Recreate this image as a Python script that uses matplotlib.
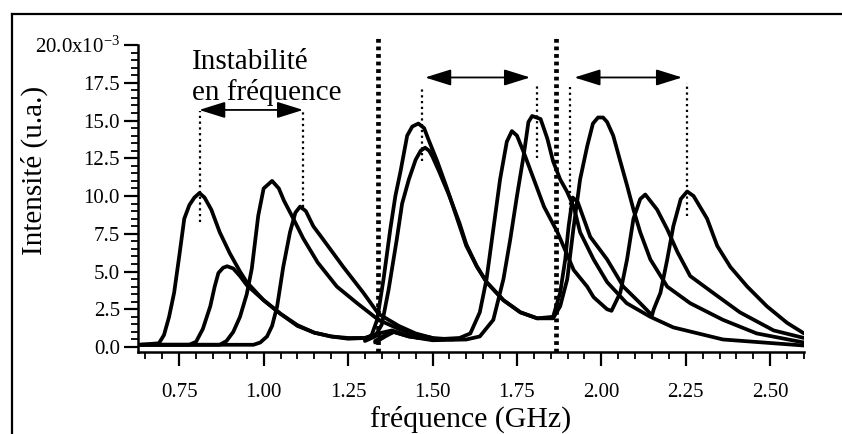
import numpy as np
import matplotlib
matplotlib.use('Agg')
import matplotlib.pyplot as plt
from matplotlib.lines import Line2D

plt.rcParams['font.family'] = ['Liberation Serif', 'DejaVu Serif']
plt.rcParams['mathtext.fontset'] = 'stix'

# intensities in units of 1e-3 (u.a.), frequencies in GHz
a_f = [0.635,0.69,0.705,0.72,0.735,0.75,0.765,0.78,0.795,0.81,0.825,0.845,0.87,0.90,0.93,0.95,1.00,1.05,1.10,1.15,1.20,1.25,1.30,1.34,1.38,1.42,1.46]
a_v = [0.15,0.25,0.8,2.0,3.6,6.0,8.5,9.4,9.9,10.2,9.9,9.1,7.6,6.2,5.0,4.3,3.1,2.2,1.4,0.95,0.7,0.55,0.6,0.9,1.1,0.8,0.6]

b_f = [0.635,0.78,0.80,0.82,0.842,0.855,0.866,0.88,0.892,0.91,0.93,0.95,1.00,1.05,1.10,1.15,1.20,1.25,1.30,1.34]
b_v = [0.15,0.15,0.35,1.2,2.7,4.0,4.9,5.25,5.35,5.2,4.7,4.1,3.1,2.2,1.45,0.95,0.7,0.6,0.6,0.85]

c_f = [0.635,0.87,0.89,0.91,0.93,0.95,0.965,0.984,1.00,1.025,1.045,1.06,1.088,1.117,1.16,1.217,1.277,1.34,1.40,1.45,1.50]
c_v = [0.15,0.15,0.4,1.0,2.0,3.5,5.2,8.7,10.5,11.0,10.5,9.7,8.5,7.2,5.6,4.0,2.9,1.8,1.2,0.8,0.6]

d_f = [0.635,0.97,0.99,1.01,1.025,1.04,1.058,1.078,1.094,1.108,1.125,1.147,1.177,1.236,1.295,1.34,1.40,1.45,1.50,1.56]
d_v = [0.15,0.15,0.3,0.7,1.4,2.7,5.3,7.6,8.9,9.3,9.0,8.0,7.1,5.3,3.6,2.2,1.4,0.9,0.6,0.5]

e_f = [1.30,1.32,1.336,1.355,1.375,1.39,1.405,1.425,1.44,1.458,1.475,1.487,1.514,1.543,1.573,1.60,1.632,1.66,1.71,1.76,1.81,1.857,
       1.878,1.893,1.903,1.915,1.93,1.967,2.017,2.065,2.115,2.15,2.155,2.175,2.195,2.213,2.235,2.254,2.273,2.313,2.343,2.382,2.432,2.49,2.55,2.60]
e_v = [0.5,0.8,1.8,4.5,7.8,10.0,11.6,14.0,14.6,14.8,14.5,13.8,12.3,10.5,8.5,6.7,5.3,4.3,3.1,2.3,1.9,2.0,
       3.6,5.8,8.0,9.9,9.6,7.3,5.8,4.0,2.9,2.1,2.5,3.6,5.8,8.0,9.8,10.3,10.0,8.5,6.7,5.3,4.0,2.7,1.6,0.9]

f_f = [1.30,1.33,1.35,1.37,1.394,1.41,1.43,1.45,1.465,1.478,1.49,1.50,1.52,1.55,1.58,1.60,1.63,1.66,1.71,1.76,1.81,1.857,
       1.878,1.899,1.917,1.937,1.958,1.975,1.99,2.005,2.017,2.035,2.056,2.076,2.095,2.115,2.145,2.195,2.263,2.36,2.46,2.60]
f_v = [0.4,0.7,1.5,3.8,7.1,9.5,11.1,12.4,13.0,13.2,13.0,12.6,11.6,10.0,8.2,6.8,5.4,4.3,3.1,2.3,1.9,1.9,
       2.7,4.5,7.8,11.1,13.3,14.8,15.2,15.2,14.9,14.0,12.3,10.7,9.1,7.6,5.8,4.0,2.9,1.8,0.9,0.3]

g_f = [1.33,1.36,1.385,1.43,1.50,1.58,1.612,1.64,1.66,1.68,1.70,1.72,1.735,1.75,1.77,1.80,1.83,1.87,1.918,1.958,1.977,2.017,2.03,
       2.056,2.076,2.095,2.115,2.13,2.165,2.195,2.225,2.263,2.33,2.41,2.51,2.60]
g_v = [0.4,0.8,1.0,0.7,0.5,0.6,0.9,2.3,4.5,7.8,11.1,13.6,14.3,14.0,12.9,11.1,9.3,7.6,5.1,4.0,3.3,2.5,2.4,
       3.6,5.8,8.5,9.8,10.1,9.1,7.8,6.3,4.7,3.6,2.3,1.1,0.6]

h_f = [1.33,1.36,1.385,1.43,1.50,1.60,1.64,1.68,1.71,1.73,1.75,1.77,1.784,1.795,1.82,1.84,1.857,1.878,1.898,1.918,1.937,1.977,2.017,2.075,2.145,2.213,2.36,2.60]
h_v = [0.3,0.7,1.0,0.7,0.45,0.5,0.7,1.8,4.5,7.1,10.0,12.7,14.9,15.3,15.1,13.8,12.3,11.1,10.3,9.3,7.6,5.8,4.3,2.9,2.0,1.3,0.5,0.1]

curves = [(a_f, a_v), (b_f, b_v), (c_f, c_v), (d_f, d_v), (e_f, e_v), (f_f, f_v), (g_f, g_v), (h_f, h_v)]

# annotation marks: band separators, peak markers, arrows
sep_f = [1.339, 1.866]
mark_f = [0.812, 1.117, 1.47, 1.81, 1.908, 2.254]
mark_lo = [8.3, 9.3, 12.3, 12.5, 8.3, 8.7]
mark_hi = [15.6, 15.6, 17.2, 17.5, 17.2, 17.5]
arrow_x0 = [0.809, 1.478, 1.920]
arrow_x1 = [1.117, 1.789, 2.239]
arrow_y = [15.7, 17.85, 17.85]

yticks = [0.0, 2.5, 5.0, 7.5, 10.0, 12.5, 15.0, 17.5, 20.0]
ylabels = ['0.0', '2.5', '5.0', '7.5', '10.0', '12.5', '15.0', '17.5', r'20.0x10$^{\mathregular{-3}}$']
xticks = [0.75, 1.00, 1.25, 1.50, 1.75, 2.00, 2.25, 2.50]

fig = plt.figure(figsize=(8.42, 4.34), dpi=100)
ax = fig.add_axes([0.1639, 0.1889, 0.9549-0.1639, 0.8963-0.1889])

for fx, fv in curves:
    ax.plot(fx, fv, color='black', lw=2.7, solid_joinstyle='round', solid_capstyle='round')

for s in sep_f:
    ax.plot([s, s], [-0.3, 20.5], color='black', lw=3.4, ls=(0, (0.8, 0.8)), clip_on=False)

for m, lo, hi in zip(mark_f, mark_lo, mark_hi):
    ax.plot([m, m], [lo, hi], color='black', lw=1.6, ls=(0, (1.0, 1.6)))

for x0, x1, y in zip(arrow_x0, arrow_x1, arrow_y):
    ax.annotate('', xy=(x1, y), xytext=(x0, y),
                arrowprops=dict(arrowstyle='<|-|>,head_length=1.6,head_width=0.5', color='black', lw=1.3,
                                shrinkA=0, shrinkB=0))

ax.text(0.788, 17.85, 'Instabilité\nen fréquence', fontsize=21, ha='left', va='center', linespacing=1.15)

ax.set_xlim(0.628, 2.60)
ax.set_ylim(-0.33, 20.0)
ax.spines['top'].set_visible(False)
ax.spines['right'].set_visible(False)
ax.spines['left'].set_linewidth(1.8)
ax.spines['bottom'].set_linewidth(1.8)

ax.set_yticks(yticks)
ax.set_yticklabels(ylabels)
ax.set_yticks(np.arange(0, 20.01, 0.5), minor=True)
ax.set_xticks(xticks)
ax.set_xticklabels(['%.2f' % x for x in xticks])
ax.set_xticks(np.arange(0.65, 2.601, 0.05), minor=True)
ax.tick_params(which='major', length=10, width=1.6, labelsize=15, direction='out')
ax.tick_params(which='minor', length=5, width=1.3, direction='out')
ax.tick_params(axis='x', pad=12)
ax.tick_params(axis='y', pad=3)

ax.set_xlabel('fréquence (GHz)', fontsize=21.5)
ax.xaxis.set_label_coords(0.5, -0.175)
ax.set_ylabel('Intensité (u.a.)', fontsize=21)
ax.yaxis.set_label_coords(-0.135, 0.59)

# frame lines around the scanned figure
fig.add_artist(Line2D([12/842, 1.0], [1-14/434, 1-14/434], color='black', lw=1.6, transform=fig.transFigure))
fig.add_artist(Line2D([12/842, 12/842], [0.0, 1-14/434], color='black', lw=1.6, transform=fig.transFigure))

fig.savefig('out.png', dpi=100)
